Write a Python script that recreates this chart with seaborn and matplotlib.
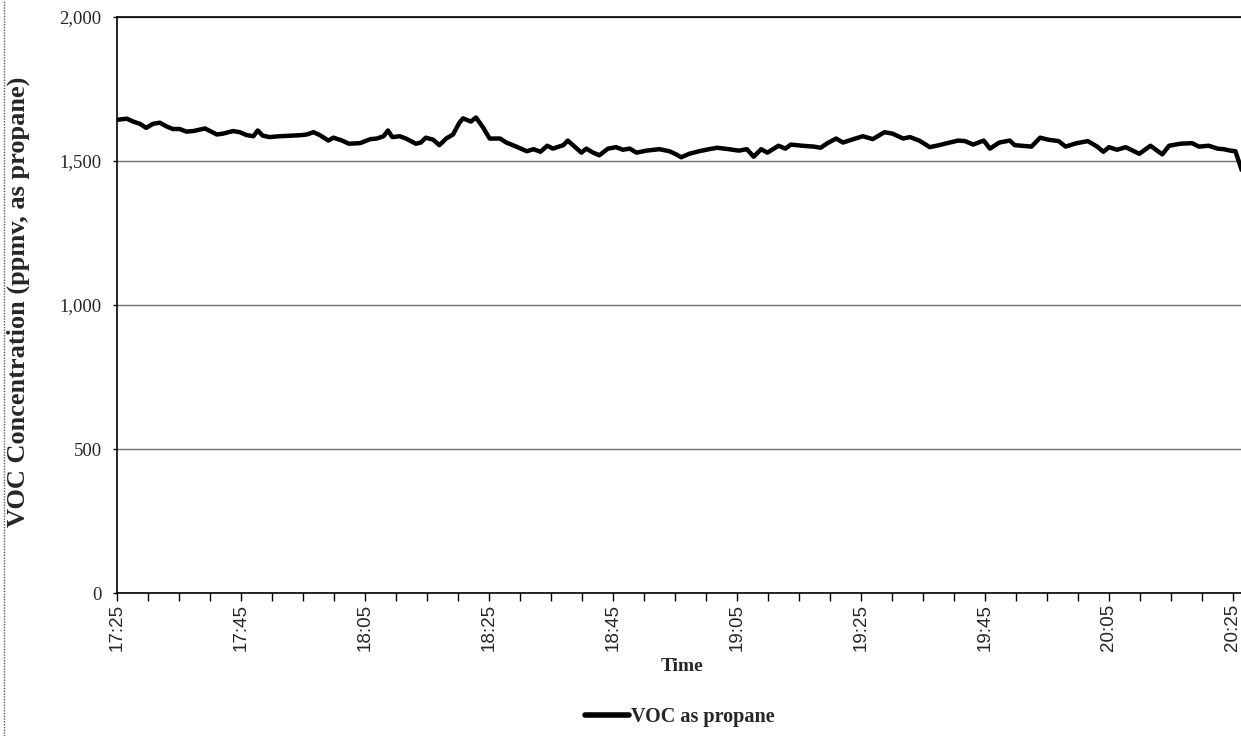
import numpy as np
import pandas as pd
import matplotlib
matplotlib.use("Agg")
import matplotlib.pyplot as plt
import seaborn as sns
from matplotlib.ticker import MultipleLocator
from matplotlib.lines import Line2D

# minutes after 17:25 and VOC reading (ppmv as propane)
minutes = [0, 1.6, 2.6, 3.7, 4.7, 5.8, 6.9, 8.0, 9.0, 10.1, 11.2, 12.3, 13.4, 14.2,
           15.0, 16.1, 17.1, 18.7, 19.8, 20.9, 22.0, 22.7, 23.5, 24.6, 26.2, 28.2,
           29.8, 30.6, 31.7, 32.7, 34.1, 34.9, 36.3, 37.4, 39.2, 40.9, 41.9, 43.0,
           43.7, 44.4, 45.6, 46.6, 48.2, 49.0, 49.8, 51.0, 52.0, 53.1, 54.2, 55.2,
           55.8, 57.1, 57.9, 59.0, 60.1, 61.8, 62.8, 64.4, 66.1, 67.2, 68.3, 69.4,
           70.3, 72.0, 72.7, 73.8, 74.9, 75.7, 76.8, 77.8, 79.2, 80.5, 81.6, 82.7,
           83.8, 85.4, 87.5, 89.1, 90.2, 91.0, 92.3, 93.9, 95.5, 96.8, 98.7, 100.3,
           101.6, 102.7, 103.9, 104.9, 106.7, 107.8, 108.7, 110.5, 112.4, 113.5,
           114.6, 116.0, 117.1, 118.8, 120.3, 121.9, 123.8, 125.1, 126.8, 127.9,
           129.4, 131.1, 132.6, 134.3, 135.7, 136.8, 138.1, 139.8, 140.8, 142.3,
           144.0, 144.8, 147.5, 148.9, 150.2, 151.9, 153.0, 154.8, 156.6, 158.1,
           159.1, 160.0, 161.3, 162.7, 164.9, 166.7, 168.6, 169.7, 171.5, 173.4,
           174.5, 176.1, 177.5, 178.5, 179.6, 180.4, 181.4]
voc = [1643, 1647, 1637, 1629, 1615, 1629, 1633, 1620, 1611, 1611, 1602, 1604, 1609, 1613,
       1604, 1592, 1595, 1604, 1600, 1590, 1586, 1606, 1588, 1583, 1586, 1588,
       1590, 1592, 1600, 1590, 1571, 1581, 1571, 1560, 1562, 1576, 1578, 1586,
       1606, 1583, 1586, 1578, 1560, 1564, 1581, 1574, 1555, 1578, 1592, 1632,
       1648, 1637, 1651, 1618, 1578, 1578, 1564, 1550, 1534, 1541, 1532, 1553,
       1543, 1555, 1571, 1550, 1529, 1543, 1529, 1520, 1543, 1548, 1539, 1543,
       1529, 1536, 1541, 1534, 1523, 1513, 1525, 1534, 1541, 1546, 1541, 1536,
       1541, 1515, 1541, 1529, 1553, 1543, 1557, 1553, 1550, 1546,
       1562, 1578, 1564, 1576, 1586, 1576, 1600, 1595, 1578, 1583,
       1571, 1548, 1555, 1564, 1571, 1569, 1557, 1571, 1543, 1564,
       1571, 1555, 1550, 1581, 1574, 1569, 1550, 1562, 1569, 1550,
       1532, 1548, 1539, 1548, 1525, 1553, 1523, 1553, 1560, 1562,
       1550, 1553, 1543, 1541, 1536, 1534, 1469]

time_labels = ["17:25", "17:45", "18:05", "18:25", "18:45", "19:05",
               "19:25", "19:45", "20:05", "20:25"]
y_ticks = [0, 500, 1000, 1500, 2000]
series_name = "VOC as propane"

df = pd.DataFrame({"minutes": minutes, "voc": voc})

sns.set_style("white")
serif = ["Liberation Serif", "DejaVu Serif"]
sans = ["Liberation Sans", "DejaVu Sans"]
plt.rcParams["font.family"] = serif

fig = plt.figure(figsize=(12.41, 7.36), dpi=100)
ax = fig.add_axes([117 / 1241, 143 / 736, 1124 / 1241, 576 / 736])

sns.lineplot(data=df, x="minutes", y="voc", color="black", linewidth=3.2,
             ax=ax, label=series_name, legend=False)

ax.set_xlim(0, 181.3)
ax.set_ylim(0, 2000)
ax.set_yticks(y_ticks)
ax.set_yticklabels([f"{v:,}" for v in y_ticks], fontsize=13.5, family=serif)
ax.set_xticks(np.arange(len(time_labels)) * 20)
ax.set_xticklabels(time_labels, rotation=90, fontsize=13.5, family=sans)
ax.xaxis.set_minor_locator(MultipleLocator(5))
ax.tick_params(axis="x", which="both", direction="out", length=6, width=1,
               color="black", bottom=True, pad=2)
ax.tick_params(axis="y", which="major", direction="out", length=3, width=1,
               color="black", left=True, pad=8)

ax.grid(axis="y", color="#6e6e6e", linewidth=1.0)
ax.set_axisbelow(True)
for side in ["left", "bottom", "top"]:
    ax.spines[side].set_color("black")
    ax.spines[side].set_linewidth(1.2)
ax.spines["right"].set_visible(False)

ax.set_xlabel("Time", fontsize=14, fontweight="bold")
ax.xaxis.set_label_coords(0.503, -0.128)
ax.xaxis.label.set_va("center")
ax.set_ylabel("VOC Concentration (ppmv, as propane)", fontsize=19, fontweight="bold")
ax.yaxis.set_label_coords(-0.088, 0.505)
ax.yaxis.label.set_va("center")

handles, labels = ax.get_legend_handles_labels()
leg = fig.legend(handles, labels, loc="center", bbox_to_anchor=(680 / 1241, 1 - 717 / 736),
                 frameon=False, handlelength=2.2, handletextpad=0.1,
                 prop={"family": serif, "weight": "bold", "size": 14.5})
for h in leg.get_lines():
    h.set_linewidth(4)

# dotted page edge on the left of the scan
fig.add_artist(Line2D([4 / 1241, 4 / 1241], [0, 1], transform=fig.transFigure,
                      color="#555555", linewidth=1, linestyle=(0, (1, 1))))

fig.savefig("out.png", dpi=100)
